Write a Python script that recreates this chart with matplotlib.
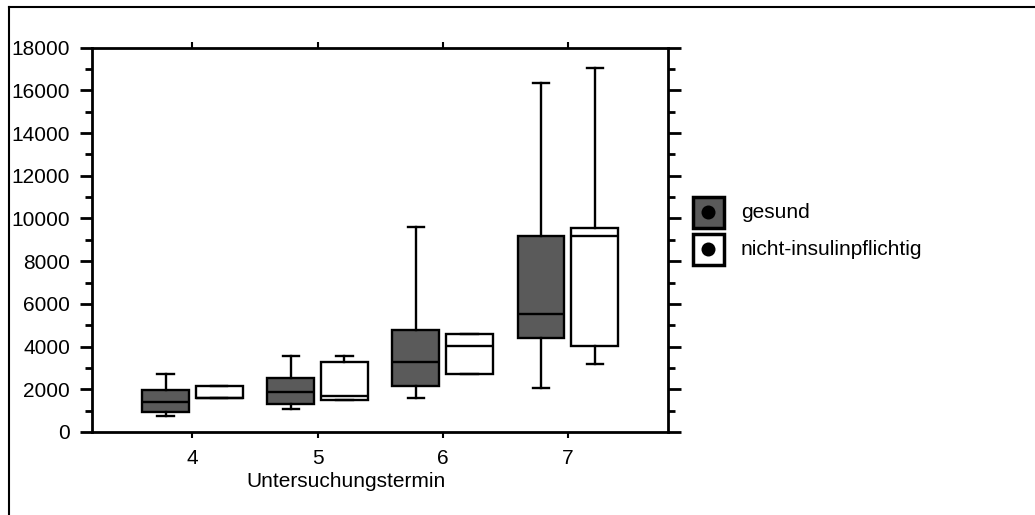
import matplotlib.pyplot as plt
from matplotlib.patches import Rectangle, Circle
from matplotlib.lines import Line2D

plt.rcParams['font.family'] = ['Liberation Sans', 'DejaVu Sans']

termine = [4, 5, 6, 7]
series = ['gesund', 'nicht-insulinpflichtig']
colors = ['#5a5a5a', '#ffffff']

# box stats
gesund_whislo = [760, 1060, 1590, 2060]
gesund_q1 = [920, 1310, 2155, 4390]
gesund_med = [1405, 1890, 3280, 5530]
gesund_q3 = [1970, 2545, 4765, 9180]
gesund_whishi = [2720, 3560, 9580, 16330]

nip_whislo = [1580, 1500, 2720, 3185]
nip_q1 = [1580, 1500, 2720, 4015]
nip_med = [1600, 1690, 4045, 9165]
nip_q3 = [2170, 3280, 4590, 9555]
nip_whishi = [2170, 3575, 4590, 17050]

yticks = list(range(0, 18001, 2000))


def make_stats(lo, q1, med, q3, hi):
    out = []
    for i in range(len(lo)):
        out.append(dict(whislo=lo[i], q1=q1[i], med=med[i], q3=q3[i],
                        whishi=hi[i], fliers=[]))
    return out


fig = plt.figure(figsize=(10.35, 5.15), dpi=100)
ax = fig.add_axes([0.0892, 0.1612, 0.5562, 0.7462])

all_stats = [make_stats(gesund_whislo, gesund_q1, gesund_med, gesund_q3, gesund_whishi),
             make_stats(nip_whislo, nip_q1, nip_med, nip_q3, nip_whishi)]
offsets = [-0.215, 0.215]
lw = 1.7
for stats, off, col in zip(all_stats, offsets, colors):
    ax.bxp(stats, positions=[t + off for t in termine], widths=0.375,
           patch_artist=True, showfliers=False,
           boxprops=dict(facecolor=col, edgecolor='black', linewidth=lw),
           medianprops=dict(color='black', linewidth=lw),
           whiskerprops=dict(color='black', linewidth=lw),
           capprops=dict(color='black', linewidth=lw),
           capwidths=0.13, manage_ticks=False)

ax.set_xlim(3.2, 7.8)
ax.set_ylim(0, 18000)
ax.set_xticks(termine)
ax.set_xticklabels([str(t) for t in termine])
ax.set_yticks(yticks)
ax.set_yticks(range(1000, 18000, 2000), minor=True)

for s in ax.spines.values():
    s.set_linewidth(2)
ax.tick_params(axis='y', which='major', direction='out', length=9, width=2,
               labelsize=15, pad=7, right=True)
ax.tick_params(axis='y', which='minor', direction='out', length=5, width=2, right=True)
ax.tick_params(axis='x', which='major', direction='out', length=4, width=1.5,
               labelsize=15, pad=8, top=True)

ax.set_xlabel('Untersuchungstermin', fontsize=15)
ax.xaxis.set_label_coords(0.4407, -0.103)

# legend drawn by hand in figure pixels
W, H = 1035, 515
def px(x, y):
    return x / W, 1 - y / H

for (y0, col, lab) in [(197, colors[0], series[0]), (234, colors[1], series[1])]:
    x0, y1 = px(693, y0 + 31)
    fig.add_artist(Rectangle((x0, y1), 31 / W, 31 / H, transform=fig.transFigure,
                             facecolor=col, edgecolor='black', linewidth=2.5))
    cx, cy = px(708.5, y0 + 15.5)
    fig.add_artist(Circle((cx * W, cy * H), 7, transform=None,
                          facecolor='black', edgecolor='none'))
    tx, ty = px(741, y0 + 15.5)
    fig.text(tx, ty, lab, fontsize=15, va='center', ha='left')

# outer frame (left and top edges visible)
fig.add_artist(Line2D([9 / W, 9 / W], [0, 1 - 7 / H], transform=fig.transFigure,
                      color='black', linewidth=1.5))
fig.add_artist(Line2D([9 / W, 1], [1 - 7 / H, 1 - 7 / H], transform=fig.transFigure,
                      color='black', linewidth=1.5))

fig.savefig('out.png', dpi=100)
